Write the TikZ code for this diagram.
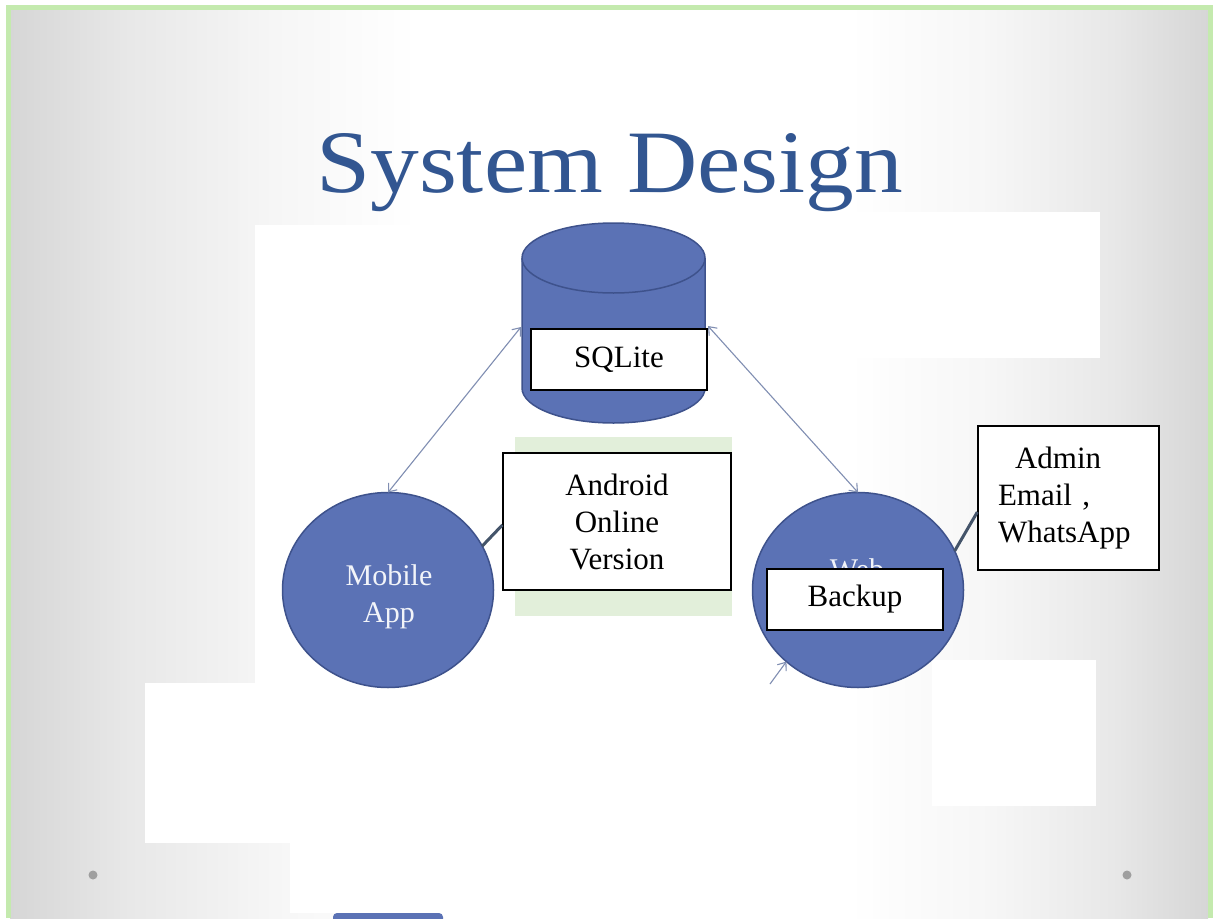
\documentclass[tikz,border=0pt]{standalone}
\usepackage{fontspec}
\setmainfont{Liberation Serif}
\usetikzlibrary{arrows.meta,shapes.geometric,calc}
\definecolor{shapeblue}{RGB}{91,114,181}
\definecolor{shapeedge}{RGB}{62,82,140}
\definecolor{titleblue}{RGB}{50,86,145}
\definecolor{framegreen}{RGB}{196,234,174}
\definecolor{palegreen}{RGB}{226,239,218}
\definecolor{arrowgray}{RGB}{128,142,178}
\definecolor{linkgray}{RGB}{68,84,106}
\definecolor{bggray}{RGB}{214,214,214}
\definecolor{bgnear}{RGB}{232,232,232}
\definecolor{bgmid}{RGB}{246,246,246}
\pgfdeclarehorizontalshading{slidebg}{100bp}{color(0bp)=(bggray); color(25bp)=(bggray); color(30bp)=(bgnear); color(36bp)=(bgmid); color(42bp)=(white); color(60bp)=(white); color(66bp)=(bgmid); color(71bp)=(bgnear); color(75bp)=(bggray); color(100bp)=(bggray)}
\newcommand\dgboxfont{\fontsize{31}{37}\selectfont}
\newcommand\dgappfont{\fontsize{30}{37}\selectfont}
\tikzset{
  txtbox/.style={draw=black, line width=1.3pt, fill=white, inner sep=0pt, font=\dgboxfont},
  appellipse/.style={ellipse, draw=shapeedge, line width=1.5pt, fill=shapeblue,
    minimum width=211pt, minimum height=195pt, inner sep=0pt, outer sep=0pt},
  apptext/.style={text=white!92!shapeblue, font=\dgappfont, align=center, inner sep=0pt},
  biarrow/.style={draw=arrowgray, line width=1.1pt,
    {Straight Barb[length=7pt,width=11pt]}-{Straight Barb[length=7pt,width=11pt]}},
  onearrow/.style={draw=arrowgray, line width=1.1pt, -{Straight Barb[length=7pt,width=11pt]}},
  link/.style={draw=linkgray, line width=3pt},
  patch/.style={fill=white, draw=none},
  cyl/.style={fill=shapeblue, draw=shapeedge, line width=1.5pt}
}
\begin{document}
\begin{tikzpicture}[x=1pt,y=-1pt]
\useasboundingbox (0,0) rectangle (1217,918);
\fill[white] (0,0) rectangle (1217,918);
% slide background: white centre, grey towards the edges
\shade[shading=slidebg] (10,9) rectangle (1208,918);
% white patches
\fill[patch] (255,225) rectangle (735,683);
\fill[patch] (720,212) rectangle (1100,358);
\fill[patch] (145,683) rectangle (720,843);
\fill[patch] (290,843) rectangle (452,913);
\fill[patch] (932,660) rectangle (1096,806);
% frame
\draw[framegreen, line width=5pt] (8,918) -- (8,7) -- (1210,7) -- (1210,918);
% dots
\fill[gray!75] (93,875) circle (4.5pt);
\fill[gray!75] (1127,875) circle (4.5pt);
% blue shape at bottom edge
\fill[shapeblue, rounded corners=4pt] (333,913) rectangle (443,935);
% title
\node[anchor=base west, inner sep=0pt, text=titleblue] (title) at (316,192)
  {\scalebox{1}[0.915]{\fontsize{97.4}{100}\selectfont System Design}};
% database cylinder
\filldraw[cyl] (522,258) -- (522,388)
  arc[start angle=180, end angle=360, x radius=91.5pt, y radius=35pt]
  -- (705,258)
  arc[start angle=0, end angle=180, x radius=91.5pt, y radius=35pt] -- cycle;
\draw[shapeedge, line width=1.5pt] (522,258)
  arc[start angle=180, end angle=360, x radius=91.5pt, y radius=35pt];
\node[inner sep=0pt, minimum width=183pt, minimum height=200pt] (db) at (613.5,323) {};
% app ellipses
\node[appellipse] (mob) at (388,590) {};
\node[apptext] (mobtxt) at (389,597) {Mobile\\App};
\node[appellipse] (web) at (858,590) {};
\node[apptext, anchor=north] (webtxt) at (857,558) {Web};
% connectors
\coordinate (dbL) at (521,327);
\coordinate (dbR) at (708,326);
\coordinate (stub) at (770,684);
\draw[biarrow] (dbL) -- (mob.north);
\draw[biarrow] (dbR) -- (web.north);
\draw[onearrow] (stub) -- (web.225);
% green backdrop for android box
\fill[palegreen] (515,437) rectangle (732,616);
% text boxes
\node[txtbox, minimum width=176pt, minimum height=61pt] (sql) at (619,359.5) {SQLite};
\node[txtbox, minimum width=228pt, minimum height=137pt, align=center] (andr) at (617,521.5)
  {Android\\Online\\Version};
\node[txtbox, minimum width=176pt, minimum height=61pt] (bak) at (855,599.5) {Backup};
\node[txtbox, text width=141pt, inner xsep=20pt, minimum height=144pt, align=left] (adm) at (1068.5,498)
  {\hspace*{17pt}Admin\\Email ,\\WhatsApp};
\draw[link] (mob.25) -- ([yshift=-3.5pt]andr.west);
\draw[link] (web.22) -- ([yshift=-14pt]adm.west);
\end{tikzpicture}
\end{document}
